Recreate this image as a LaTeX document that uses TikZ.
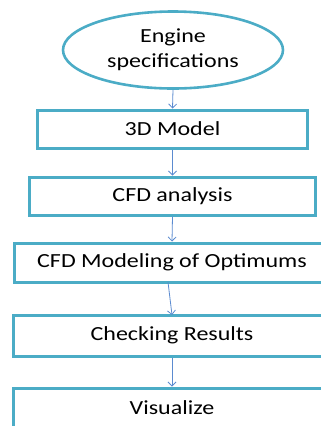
\documentclass[tikz,border=0pt]{standalone}
\usepackage{fontspec}
\setmainfont{Carlito}[FakeStretch=1.2]
\usetikzlibrary{shapes.geometric,arrows.meta}
\definecolor{boxline}{HTML}{4BACC6}
\definecolor{arrline}{HTML}{5B8BD0}
\begin{document}
\begin{tikzpicture}[x=1bp,y=-1bp,
  stepbox/.style={draw=boxline,line width=3bp,fill=white,rectangle,inner sep=0pt,
    font=\fontsize{20bp}{22bp}\selectfont},
  startnode/.style={draw=boxline,line width=2.6bp,fill=white,ellipse,inner sep=0pt,
    minimum width=220bp,minimum height=77bp,align=center,
    font=\fontsize{20bp}{25bp}\selectfont},
  link/.style={draw=arrline,line width=0.8bp,-{Straight Barb[length=4bp,width=8bp]}}]
\useasboundingbox (0,0) rectangle (321,426);
\clip (0,0) rectangle (321,426);
\node[startnode] (spec) at (173,50) {Engine\\specifications};
\node[stepbox,minimum width=269bp,minimum height=38bp] (model) at (172.5,129) {3D Model};
\node[stepbox,minimum width=285bp,minimum height=38bp] (cfd) at (172.5,196) {CFD analysis};
\node[stepbox,minimum width=314bp,minimum height=39bp] (opt) at (172,262.5) {CFD Modeling of Optimums};
\node[stepbox,minimum width=316bp,minimum height=41bp] (check) at (172,335.5) {Checking Results};
\node[stepbox,minimum width=316bp,minimum height=40bp] (vis) at (172,408) {Visualize};
\coordinate (o1) at (168,282);
\coordinate (c1) at (172,315);
\draw[link] (spec.south) -- (model.north);
\draw[link] (model.south) -- (cfd.north);
\draw[link] (cfd.south) -- (opt.north);
\draw[link] (o1) -- (c1);
\draw[link] (check.south) -- (vis.north);
\end{tikzpicture}
\end{document}
